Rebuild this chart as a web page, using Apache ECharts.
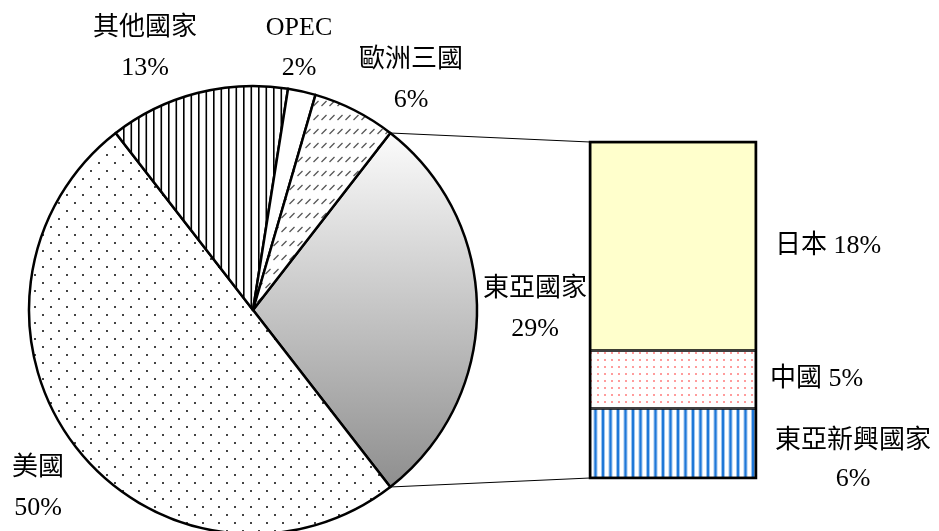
<!DOCTYPE html>
<html>
<head>
<meta charset="utf-8">
<script src="https://cdn.jsdelivr.net/npm/echarts@6/dist/echarts.min.js"></script>
<style>
	html, body { margin: 0; padding: 0; background: #fff; }
	#main { width: 939px; height: 531px; }
</style>
</head>
<body>
<div id="main"></div>
<script>
	// 各地區占比 (%)
	var regionNames = ['東亞國家', '美國', '其他國家', 'OPEC', '歐洲三國'];
	var regionValues = [29, 50, 13, 2, 6];
	// 東亞國家 細項 (%)
	var subNames = ['日本', '中國', '東亞新興國家'];
	var subValues = [18, 5, 6];

	var FONT = '"Liberation Serif", "Noto Sans CJK TC", serif';
	var FONT_SIZE = 26;
	var pieCenter = [253, 310];
	var pieRadius = 224;
	var barBox = { left: 590, top: 142, width: 166, height: 336 };

	// label positions (centre of text block)
	var pieLabelPos = {
		'其他國家': [145, 48],
		'OPEC': [299, 48],
		'歐洲三國': [411, 80],
		'東亞國家': [535, 309],
		'美國': [38, 488]
	};

	function makePattern(w, h, draw) {
		var c = document.createElement('canvas');
		c.width = w;
		c.height = h;
		var ctx = c.getContext('2d');
		ctx.fillStyle = '#fff';
		ctx.fillRect(0, 0, w, h);
		draw(ctx);
		return { image: c, repeat: 'repeat' };
	}

	var dots = makePattern(16, 16, function (ctx) {
		ctx.fillStyle = '#444';
		ctx.fillRect(2, 2, 2, 2);
		ctx.fillRect(10, 10, 2, 2);
	});
	var vlines = makePattern(15, 4, function (ctx) {
		ctx.fillStyle = '#000';
		ctx.fillRect(3, 0, 1.6, 4);
		ctx.fillRect(10.5, 0, 1.6, 4);
	});
	var slashes = makePattern(8, 14, function (ctx) {
		ctx.strokeStyle = '#555';
		ctx.lineWidth = 1.3;
		ctx.beginPath();
		ctx.moveTo(1.5, 8);
		ctx.lineTo(6.5, 3);
		ctx.stroke();
	});
	var pinkDots = makePattern(7, 7, function (ctx) {
		ctx.fillStyle = '#ff9c9c';
		ctx.fillRect(2, 2, 2, 2);
	});
	var blueLines = makePattern(15, 4, function (ctx) {
		ctx.fillStyle = '#9cc3ee';
		ctx.fillRect(1, 0, 4, 4);
		ctx.fillRect(8.5, 0, 4, 4);
		ctx.fillStyle = '#1f78d8';
		ctx.fillRect(2, 0, 2, 4);
		ctx.fillRect(9.5, 0, 2, 4);
	});

	var pieFills = {
		'東亞國家': {
			type: 'linear', x: 0, y: 0, x2: 0, y2: 1,
			colorStops: [{ offset: 0, color: '#fcfcfc' }, { offset: 1, color: '#8e8e8e' }]
		},
		'美國': dots,
		'其他國家': vlines,
		'OPEC': '#fff',
		'歐洲三國': slashes
	};
	var barFills = {
		'日本': '#ffffcc',
		'中國': pinkDots,
		'東亞新興國家': blueLines
	};
	var barLabelStyle = {
		'日本': { distance: 19, sep: ' ' },
		'中國': { distance: 14, sep: ' ' },
		'東亞新興國家': { distance: 97, sep: '\n', align: 'center', offset: [0, 17] }
	};

	var total = regionValues.reduce(function (a, b) { return a + b; }, 0);
	var subTotal = subValues.reduce(function (a, b) { return a + b; }, 0);
	// split slice centred on 3 o'clock
	var startAngle = regionValues[0] / total * 180;

	function piePoint(deg) {
		var r = deg * Math.PI / 180;
		return [pieCenter[0] + pieRadius * Math.cos(r), pieCenter[1] - pieRadius * Math.sin(r)];
	}
	var pTop = piePoint(startAngle);
	var pBottom = piePoint(-startAngle);

	var pieData = regionNames.map(function (name, i) {
		return { name: name, value: regionValues[i], itemStyle: { color: pieFills[name] } };
	});

	var barSeries = [];
	for (var i = subNames.length - 1; i >= 0; i--) {
		var st = barLabelStyle[subNames[i]];
		barSeries.push({
			name: subNames[i],
			type: 'bar',
			stack: 'east',
			barWidth: '100%',
			z: 5,
			data: [subValues[i]],
			// borders sit inside each segment, so half width gives a single line at joints
			itemStyle: { color: barFills[subNames[i]], borderColor: '#000', borderWidth: 1.3 },
			label: {
				show: true,
				position: 'right',
				distance: st.distance,
				align: st.align || 'left',
				offset: st.offset || [0, 0],
				formatter: (function (sep) {
					return function (p) { return p.seriesName + sep + p.value + '%'; };
				})(st.sep),
				fontFamily: FONT,
				fontSize: FONT_SIZE,
				lineHeight: 38,
				color: '#000'
			}
		});
	}

	var myChart = echarts.init(document.getElementById('main'));
	var option = {
		animation: false,
		backgroundColor: '#fff',
		grid: {
			left: barBox.left,
			top: barBox.top,
			width: barBox.width,
			height: barBox.height,
			outerBoundsMode: 'none'
		},
		xAxis: { type: 'category', data: ['東亞國家'], show: false },
		yAxis: { type: 'value', min: 0, max: subTotal, show: false },
		series: [{
			type: 'pie',
			center: pieCenter,
			radius: pieRadius,
			startAngle: startAngle,
			clockwise: true,
			avoidLabelOverlap: false,
			z: 2,
			data: pieData,
			itemStyle: { borderColor: '#000', borderWidth: 2.5 },
			label: {
				show: true,
				formatter: function (p) { return p.name + '\n' + p.value + '%'; },
				fontFamily: FONT,
				fontSize: FONT_SIZE,
				lineHeight: 40,
				color: '#000',
				align: 'center'
			},
			labelLine: { show: false },
			labelLayout: function (p) {
				var pos = pieLabelPos[regionNames[p.dataIndex]];
				return { x: pos[0], y: pos[1], align: 'center', verticalAlign: 'middle' };
			},
			emphasis: { disabled: true }
		}].concat(barSeries),
		graphic: [
			{
				type: 'line', z: 1,
				shape: { x1: pTop[0], y1: pTop[1], x2: barBox.left, y2: barBox.top },
				style: { stroke: '#000', lineWidth: 1 }
			},
			{
				type: 'line', z: 1,
				shape: { x1: pBottom[0], y1: pBottom[1], x2: barBox.left, y2: barBox.top + barBox.height },
				style: { stroke: '#000', lineWidth: 1 }
			},
			{
				// outer frame of the stacked bar
				type: 'rect', z: 10,
				shape: { x: barBox.left, y: barBox.top, width: barBox.width, height: barBox.height },
				style: { fill: null, stroke: '#000', lineWidth: 2.5 }
			}
		]
	};
	myChart.setOption(option);
</script>
</body>
</html>
